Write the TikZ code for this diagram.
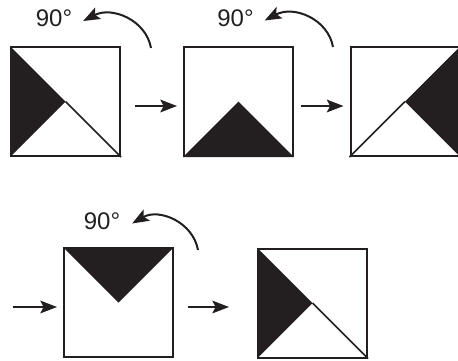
\documentclass[tikz,border=0pt]{standalone}
\usepackage{fontspec}
\setmainfont{Liberation Sans}
\usetikzlibrary{arrows.meta,calc}

\definecolor{ink}{RGB}{35,31,32}
\tikzset{every picture/.style={line width=1.5pt}}
\tikzset{
  sq/.style={draw=ink, minimum size=81.75pt, inner sep=0pt},
  arr/.style={draw=ink, -{Stealth[length=12.5pt,width=9.5pt,inset=2.5pt]}},
  deg/.style={inner sep=0pt, text=ink, font=\fontsize{18}{21}\selectfont},
  diag/.style={draw=ink, line width=1.2pt}
}

\begin{document}
\begin{tikzpicture}[x=0.75pt,y=0.75pt,yscale=-1,xscale=1]
\useasboundingbox (0,0) rectangle (458,361);

%Squares
\node [sq] (s1) at (65.5,101.5) {};
\node [sq] (s2) at (238.5,101.5) {};
\node [sq] (s3) at (405,101.5) {};
\node [sq] (s4) at (118.5,302.5) {};
\node [sq] (s5) at (312.5,303) {};

%Black triangles
\fill [ink] (s1.north west) -- (s1.center) -- (s1.south west) -- cycle;
\draw [diag] (s1.center) -- (s1.south east);
\fill [ink] (s2.south west) -- (s2.center) -- (s2.south east) -- cycle;
\fill [ink] (s3.north east) -- (s3.center) -- (s3.south east) -- cycle;
\draw [diag] (s3.south west) -- (s3.center);
\fill [ink] (s4.north west) -- (s4.center) -- (s4.north east) -- cycle;
\fill [ink] (s5.north west) -- (s5.center) -- (s5.south west) -- cycle;
\draw [diag] (s5.center) -- (s5.south east);

%Straight arrows
\coordinate (in4) at (13,307);
\draw [arr] ($(s1.east)+(14,4.5)$) -- ($(s2.west)+(-6,4.5)$);
\draw [arr] ($(s2.east)+(7,4.5)$) -- ($(s3.west)+(-6,4.5)$);
\draw [arr] (in4) -- ($(s4.west)+(-6,4.5)$);
\draw [arr] ($(s4.east)+(14,4.5)$) -- ($(s5.west)+(-28,4)$);

% Text Node
\node [deg] (l1) at (54,18.5) {90°};
% Text Node
\node [deg] (l2) at (235.5,18.5) {90°};
% Text Node
\node [deg] (l3) at (102,221.5) {90°};

%Rotation arrows
\coordinate (r1) at (151,48);
\coordinate (r2) at (333,47);
\coordinate (r4) at (198,250);
\draw [arr] (r1) .. controls (146,20) and (112,6) .. ($(l1.east)+(10,2.5)$);
\draw [arr] (r2) .. controls (328,19) and (294,5) .. ($(l2.east)+(10,2)$);
\draw [arr] (r4) .. controls (193,222) and (159,208) .. ($(l3.east)+(11,2)$);

\end{tikzpicture}
\end{document}
